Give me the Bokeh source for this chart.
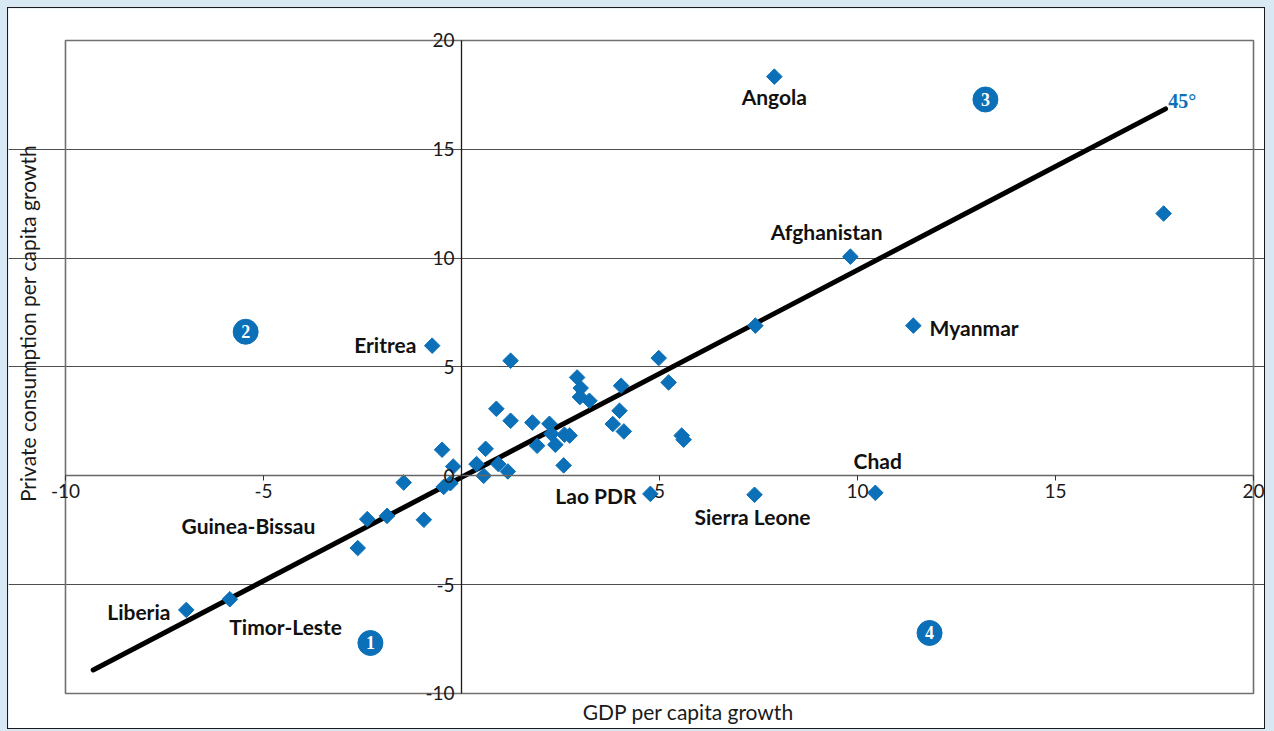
import math
from bokeh.plotting import figure
from bokeh.models import (LinearAxis, FixedTicker, Label, ColumnDataSource,
                          Range1d, Grid)
from bokeh.core.properties import value
from bokeh.embed import file_html
from bokeh.resources import INLINE

# ---------------- data ----------------
gdp_growth = [7.90, 17.73, 9.82, 11.41, 7.42, -0.74, 1.24, 4.98, 5.23, 2.92,
              3.01, 2.99, 3.23, 4.03, 3.99, 3.82, 4.10, 5.56, 5.61, 0.88,
              1.24, 1.79, 2.22, 2.27, 1.91, 2.37, 2.60, 2.73, 2.58, 0.61,
              0.38, 0.93, 0.56, 1.17, -0.49, -0.21, -1.46, -0.45, -0.28, -2.38,
              -1.88, -0.95, -2.62, -6.95, -5.85, 10.45, 7.40, 4.77]
cons_growth = [18.34, 12.05, 10.07, 6.90, 6.90, 5.98, 5.29, 5.41, 4.29, 4.52,
               4.03, 3.62, 3.45, 4.14, 2.99, 2.38, 2.04, 1.85, 1.66, 3.08,
               2.53, 2.45, 2.39, 1.93, 1.38, 1.43, 1.89, 1.85, 0.48, 1.24,
               0.54, 0.54, 0.00, 0.20, 1.20, 0.43, -0.31, -0.51, -0.34, -1.99,
               -1.84, -2.02, -3.32, -6.16, -5.67, -0.78, -0.87, -0.83]

line_x = [-9.30, 17.78]
line_y = [-8.92, 16.86]

country_names = ["Angola", "Afghanistan", "Myanmar", "Eritrea", "Chad",
                 "Lao PDR", "Sierra Leone", "Guinea-Bissau", "Liberia",
                 "Timor-Leste"]
quadrant_ids = ["1", "2", "3", "4"]

x_ticks = [-10, -5, 0, 5, 10, 15, 20]
y_ticks = [-10, -5, 0, 5, 10, 15, 20]
grid_ticks = [-5, 5, 10, 15]

x_title = "GDP per capita growth"
y_title = "Private consumption per capita growth"

# ---------------- annotation placement ----------------
name_x = [7.90, 9.22, 11.82, -1.14, 10.51, 4.42, 7.35, -5.38, -7.35, -4.44]
name_y = [17.43, 11.22, 6.80, 6.02, 0.69, -0.92, -1.89, -2.30, -6.21, -6.90]
name_align = ["center", "center", "left", "right", "center", "right",
              "center", "center", "right", "center"]
quad_x = [-2.30, -5.45, 13.23, 11.82]
quad_y = [-7.68, 6.62, 17.29, -7.22]

BLUE = "#0b70b7"
FONT = "Lato"
SERIF = "Liberation Serif"

W, H = 1258, 722
p = figure(width=W, height=H,
           x_range=Range1d(-11.439, 20.328), y_range=Range1d(-11.700, 21.470),
           x_axis_location=None, y_axis_location=None,
           output_backend="svg", toolbar_location=None,
           min_border=0, min_border_left=0, min_border_right=0,
           min_border_top=0, min_border_bottom=0)
p.background_fill_color = "white"
p.border_fill_color = "white"
p.outline_line_color = None
p.styles = {"border": "1px solid #1a1a1a"}
p.grid.visible = False

lo, hi = x_ticks[0], x_ticks[-1]
ylo, yhi = y_ticks[0], y_ticks[-1]

# horizontal grid, limited to the plotting box
p.add_layout(Grid(dimension=1, ticker=FixedTicker(ticks=grid_ticks),
                  bounds=(lo, hi),
                  grid_line_color="#4d4d4d", grid_line_width=1.2))

# plotting box
p.quad(left=[lo], right=[hi], bottom=[ylo], top=[yhi], fill_color=None,
       line_color="#707070", line_width=1.6)

# axes crossing at origin
xaxis = LinearAxis(fixed_location=0, ticker=FixedTicker(ticks=x_ticks),
                   bounds=(lo, hi),
                   major_label_overrides={t: ("" if t == 0 else str(t))
                                          for t in x_ticks})
xaxis.axis_line_color = "#666666"
xaxis.axis_line_width = 1.5
xaxis.major_tick_line_color = "#333333"
xaxis.major_tick_in = 0
xaxis.major_tick_out = 5
xaxis.minor_tick_line_color = None
xaxis.major_label_standoff = 3
xaxis.major_label_text_font = FONT
xaxis.major_label_text_font_size = "19px"
xaxis.major_label_text_color = "#1a1a1a"
p.add_layout(xaxis, "below")

yaxis = LinearAxis(fixed_location=0, ticker=FixedTicker(ticks=y_ticks),
                   bounds=(ylo, yhi),
                   major_label_overrides={t: str(t) for t in y_ticks})
yaxis.axis_line_color = "#1a1a1a"
yaxis.axis_line_width = 1.3
yaxis.major_tick_in = 0
yaxis.major_tick_out = 0
yaxis.minor_tick_line_color = None
yaxis.major_label_standoff = 7
yaxis.major_label_text_font = FONT
yaxis.major_label_text_font_size = "19px"
yaxis.major_label_text_color = "#1a1a1a"
p.add_layout(yaxis, "left")

# 45 degree line
p.line(line_x, line_y, line_color="black", line_width=5, line_cap="round")

# points
src = ColumnDataSource(dict(x=gdp_growth, y=cons_growth))
p.scatter("x", "y", source=src, marker="square", angle=math.pi / 4,
          size=11, fill_color=BLUE, line_color=BLUE)

# country labels
lab = ColumnDataSource(dict(x=name_x, y=name_y, t=country_names, a=name_align))
p.text("x", "y", text="t", source=lab, text_align="a",
       text_baseline="middle", text_font=value(FONT),
       text_font_style="bold", text_font_size="21px", text_color="#111111")

p.text([17.85], [17.24], text=["45°"], text_align="left",
       text_baseline="middle", text_font=value(SERIF),
       text_font_style="bold", text_font_size="20px", text_color=BLUE)

# quadrant markers
qsrc = ColumnDataSource(dict(x=quad_x, y=quad_y, t=quadrant_ids))
p.scatter("x", "y", source=qsrc, marker="circle", size=25,
          fill_color=BLUE, line_color=BLUE)
p.text("x", "y", text="t", source=qsrc, text_align="center",
       text_baseline="middle", text_font=value(SERIF), text_font_style="bold",
       text_font_size="18px", text_color="white")

# axis titles
p.add_layout(Label(x=5.73, y=-10.83, text=x_title,
                   text_align="center", text_baseline="middle",
                   text_font=FONT, text_font_size="21px",
                   text_color="#1a1a1a"))
p.add_layout(Label(x=-10.96, y=7.0, text=y_title,
                   angle=math.pi / 2, text_align="center",
                   text_baseline="middle", text_font=FONT,
                   text_font_size="21px", text_color="#1a1a1a"))

html = file_html(p, INLINE)
html = html.replace(
    "</head>",
    "<style>html,body{margin:0;padding:0;background-color:#d8e9f4;}"
    "body{padding:7px 0 0 7px;}</style></head>", 1)
open("out.html", "w").write(html)
